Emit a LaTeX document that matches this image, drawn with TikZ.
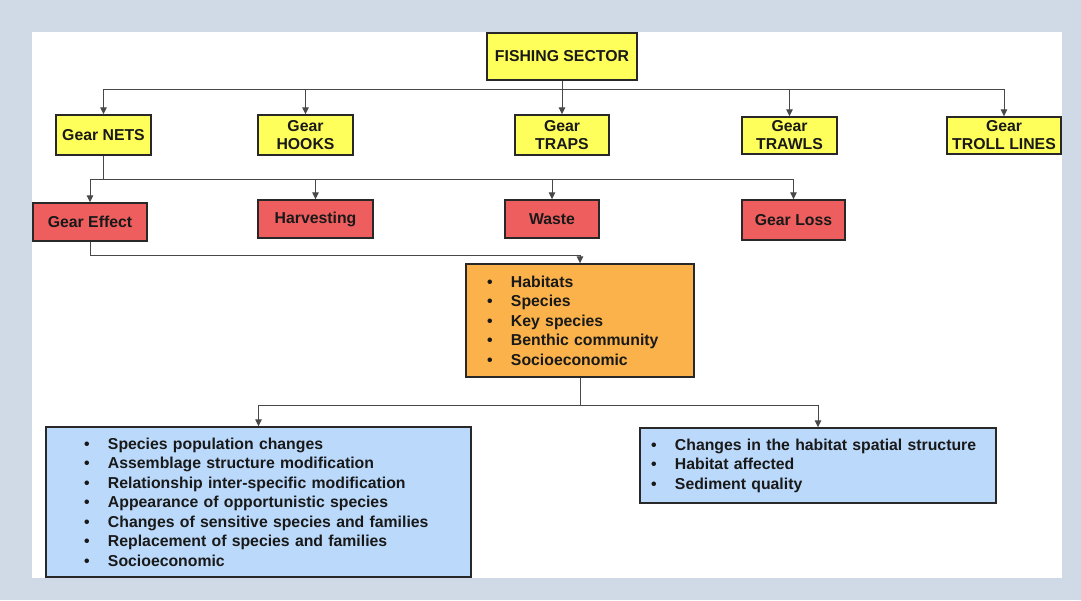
\documentclass[tikz,border=0pt]{standalone}
\usepackage{fontspec}
\setmainfont{Liberation Sans}
\usetikzlibrary{arrows.meta}
\definecolor{framebg}{RGB}{208,218,230}
\definecolor{gearyel}{RGB}{255,255,92}
\definecolor{effred}{RGB}{238,94,94}
\definecolor{impor}{RGB}{251,178,74}
\definecolor{resblue}{RGB}{187,217,250}
\definecolor{edge}{RGB}{40,40,40}
\definecolor{ink}{RGB}{25,25,25}
\newcommand\bitem[1]{\makebox[24pt][l]{\textbullet}#1\par}
\begin{document}
\begin{tikzpicture}[x=1pt,y=-1pt,
  box/.style={draw=edge,line width=1.4pt,inner sep=0pt,align=center,text=ink,
    font=\fontsize{15.8}{18}\selectfont\bfseries},
  gear/.style={box,fill=gearyel},
  effect/.style={box,fill=effred},
  listbox/.style={draw=edge,line width=1.4pt,inner ysep=0pt,align=left,text=ink,
    font=\fontsize{15.8}{19.5}\selectfont\bfseries},
  arr/.style={draw=edge!85,line width=1pt,-{Triangle[length=7pt,width=6.5pt]}},
  link/.style={draw=edge!85,line width=1pt}]
\useasboundingbox (0,0) rectangle (1081,600);
\fill[framebg] (0,0) rectangle (1081,600);
\fill[white] (32,32) rectangle (1062,578);

% top of the tree
\node[gear,minimum width=150pt,minimum height=47pt] (fs) at (562,56.5) {FISHING SECTOR};

% gear types
\node[gear,minimum width=95pt,minimum height=40pt] (nets) at (103.5,135) {Gear NETS};
\node[gear,minimum width=95pt,minimum height=40pt] (hooks) at (305.5,135) {Gear\\HOOKS};
\node[gear,minimum width=94pt,minimum height=40pt] (traps) at (562,135) {Gear\\TRAPS};
\node[gear,minimum width=95pt,minimum height=37pt] (trawls) at (789.5,135.5) {Gear\\TRAWLS};
\node[gear,minimum width=114pt,minimum height=37pt] (troll) at (1004,135.5) {Gear\\TROLL LINES};

% effects of the nets
\node[effect,minimum width=114pt,minimum height=38pt] (geff) at (90,222) {Gear Effect};
\node[effect,minimum width=115pt,minimum height=38pt] (harv) at (315.5,219) {Harvesting};
\node[effect,minimum width=94pt,minimum height=38pt] (waste) at (552,219) {Waste};
\node[effect,minimum width=103pt,minimum height=40pt] (gloss) at (793.5,220) {Gear Loss};

% impact targets
\node[listbox,fill=impor,inner xsep=21pt,text width=186pt,minimum height=113pt] (impact) at (580,320.5)
  {\bitem{Habitats}\bitem{Species}\bitem{Key species}\bitem{Benthic community}\bitem{Socioeconomic}};

% biological and habitat responses
\node[listbox,fill=resblue,inner xsep=38pt,text width=349pt,minimum height=150pt] (bio) at (258.5,502)
  {\bitem{Species population changes}\bitem{Assemblage structure modification}%
   \bitem{Relationship inter-specific modification}\bitem{Appearance of opportunistic species}%
   \bitem{Changes of sensitive species and families}\bitem{Replacement of species and families}%
   \bitem{Socioeconomic}};
\node[listbox,fill=resblue,inner xsep=11pt,text width=334pt,minimum height=75pt] (hab) at (818,465.5)
  {\bitem{Changes in the habitat spatial structure}\bitem{Habitat affected}\bitem{Sediment quality}};

% connectors
\coordinate (bus1) at (fs.south |- 0,89);
\draw[link] (fs.south) -- (bus1);
\draw[arr] (bus1) -| (nets.north);
\draw[arr] (bus1) -| (hooks.north);
\draw[arr] (bus1) -- (traps.north);
\draw[arr] (bus1) -| (trawls.north);
\draw[arr] (bus1) -| (troll.north);

\coordinate (bus2) at (nets.south |- 0,179);
\draw[link] (nets.south) -- (bus2);
\draw[arr] (bus2) -| (geff.north);
\draw[arr] (bus2) -| (harv.north);
\draw[arr] (bus2) -| (waste.north);
\draw[arr] (bus2) -| (gloss.north);

\draw[arr] (geff.south) -- ++(0,14) -| (impact.north);

\coordinate (bus3) at (impact.south |- 0,405);
\draw[link] (impact.south) -- (bus3);
\draw[arr] (bus3) -| (bio.north);
\draw[arr] (bus3) -| (hab.north);
\end{tikzpicture}
\end{document}
